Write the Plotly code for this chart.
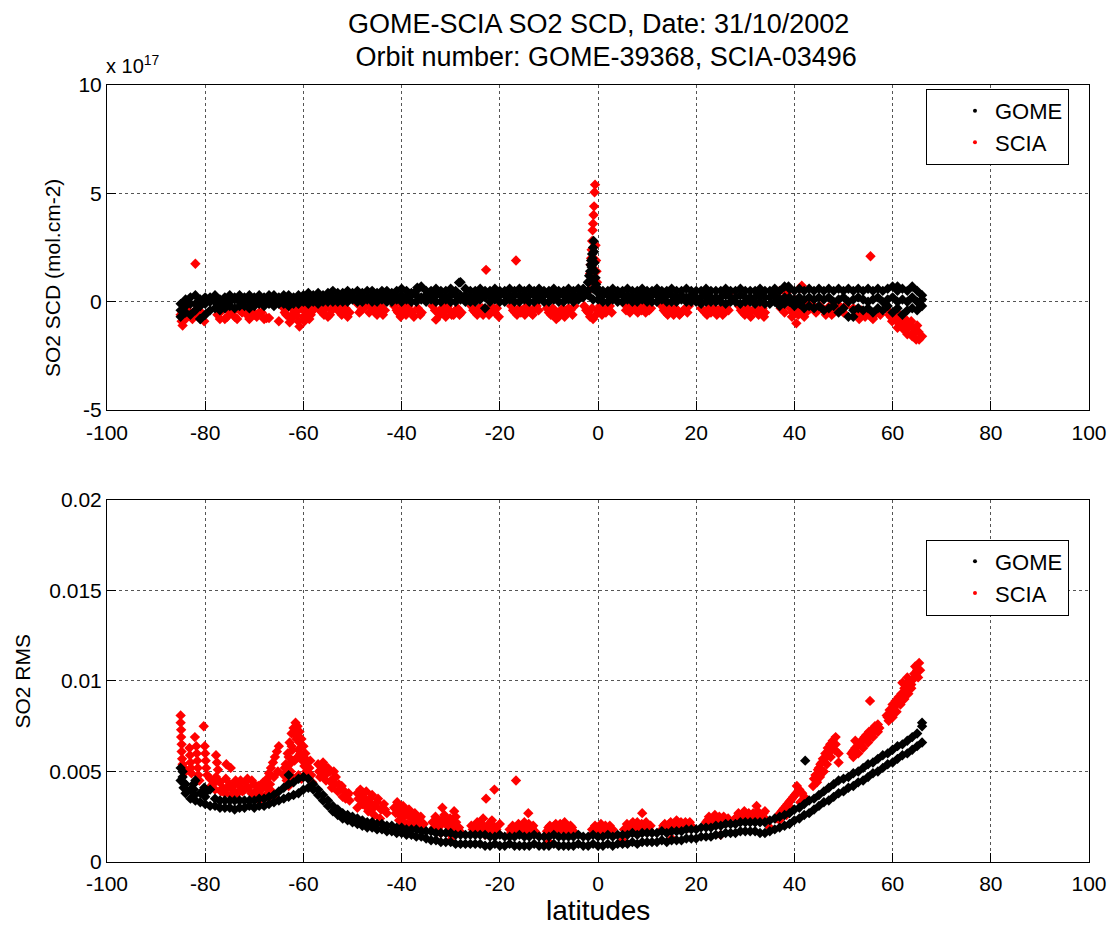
import plotly.graph_objects as go

# GOME: one orbit, sampled on a 1 degree latitude grid (band upper / middle / lower edge)
gome_lat = [-85, -84, -83, -82, -81, -80, -79, -78, -77, -76,
            -75, -74, -73, -72, -71, -70, -69, -68, -67, -66,
            -65, -64, -63, -62, -61, -60, -59, -58, -57, -56,
            -55, -54, -53, -52, -51, -50, -49, -48, -47, -46,
            -45, -44, -43, -42, -41, -40, -39, -38, -37, -36,
            -35, -34, -33, -32, -31, -30, -29, -28, -27, -26,
            -25, -24, -23, -22, -21, -20, -19, -18, -17, -16,
            -15, -14, -13, -12, -11, -10, -9, -8, -7, -6,
            -5, -4, -3, -2, -1, 0, 1, 2, 3, 4,
            5, 6, 7, 8, 9, 10, 11, 12, 13, 14,
            15, 16, 17, 18, 19, 20, 21, 22, 23, 24,
            25, 26, 27, 28, 29, 30, 31, 32, 33, 34,
            35, 36, 37, 38, 39, 40, 41, 42, 43, 44,
            45, 46, 47, 48, 49, 50, 51, 52, 53, 54,
            55, 56, 57, 58, 59, 60, 61, 62, 63, 64,
            65, 66]

# SO2 SCD in units of 1e17 mol.cm-2
gome_scd_hi = [-0.1, 0.1, 0.2, 0.3, 0.1, 0.2, 0.2, 0.3, 0.1, 0.2,
               0.3, 0.2, 0.3, 0.2, 0.3, 0.2, 0.3, 0.2, 0.3, 0.3,
               0.2, 0.3, 0.3, 0.2, 0.3, 0.3, 0.4, 0.3, 0.4, 0.3,
               0.4, 0.5, 0.4, 0.4, 0.5, 0.4, 0.5, 0.4, 0.5, 0.5,
               0.4, 0.5, 0.5, 0.4, 0.5, 0.6, 0.5, 0.4, 0.5, 0.7,
               0.5, 0.5, 0.6, 0.5, 0.5, 0.6, 0.5, 0.9, 0.6, 0.5,
               0.5, 0.6, 0.5, 0.5, 0.6, 0.5, 0.5, 0.6, 0.5, 0.6,
               0.5, 0.6, 0.5, 0.6, 0.5, 0.5, 0.6, 0.5, 0.5, 0.6,
               0.5, 0.6, 0.6, 0.9, 1.0, 0.6, 0.5, 0.5, 0.6, 0.5,
               0.5, 0.6, 0.5, 0.5, 0.6, 0.5, 0.5, 0.6, 0.5, 0.5,
               0.6, 0.5, 0.5, 0.6, 0.5, 0.5, 0.5, 0.6, 0.5, 0.5,
               0.5, 0.6, 0.5, 0.5, 0.6, 0.5, 0.5, 0.5, 0.6, 0.5,
               0.5, 0.6, 0.5, 0.7, 0.6, 0.5, 0.6, 0.5, 0.6, 0.5,
               0.6, 0.5, 0.6, 0.5, 0.6, 0.5, 0.6, 0.5, 0.6, 0.5,
               0.6, 0.5, 0.6, 0.5, 0.6, 0.7, 0.5, 0.6, 0.5, 0.7,
               0.5, 0.3]
gome_scd_mid = [-0.4, -0.2, -0.1, -0.1, -0.2, -0.1, 0.0, 0.0, -0.1, 0.0,
                0.0, 0.1, 0.0, 0.1, 0.0, 0.1, 0.1, 0.0, 0.1, 0.1,
                0.0, 0.1, 0.1, 0.0, 0.1, 0.1, 0.1, 0.2, 0.1, 0.2,
                0.1, 0.2, 0.2, 0.1, 0.2, 0.2, 0.2, 0.2, 0.2, 0.3,
                0.2, 0.2, 0.3, 0.2, 0.2, 0.3, 0.2, 0.3, 0.3, 0.2,
                0.3, 0.2, 0.3, 0.3, 0.2, 0.3, 0.3, 0.3, 0.3, 0.2,
                0.3, 0.3, 0.2, 0.3, 0.3, 0.3, 0.3, 0.3, 0.3, 0.3,
                0.3, 0.3, 0.3, 0.3, 0.3, 0.3, 0.3, 0.3, 0.3, 0.3,
                0.3, 0.3, 0.4, 0.5, 0.6, 0.4, 0.3, 0.3, 0.3, 0.3,
                0.3, 0.3, 0.2, 0.3, 0.3, 0.2, 0.3, 0.3, 0.2, 0.3,
                0.3, 0.2, 0.3, 0.2, 0.3, 0.2, 0.2, 0.3, 0.2, 0.2,
                0.2, 0.3, 0.2, 0.2, 0.3, 0.2, 0.2, 0.2, 0.3, 0.2,
                0.2, 0.3, 0.1, 0.2, 0.2, 0.1, 0.2, 0.1, 0.2, 0.1,
                0.2, 0.1, 0.2, 0.0, 0.1, 0.2, 0.0, 0.1, 0.2, 0.1,
                0.0, 0.1, 0.2, 0.0, 0.1, 0.2, 0.0, 0.1, 0.0, 0.2,
                0.0, 0.1]
gome_scd_lo = [-0.7, -0.5, -0.6, -0.4, -0.8, -0.6, -0.4, -0.3, -0.4, -0.3,
               -0.2, -0.3, -0.2, -0.2, -0.3, -0.2, -0.1, -0.2, -0.1, -0.2,
               -0.1, -0.1, -0.2, -0.1, -0.1, 0.0, -0.1, 0.0, -0.1, 0.0,
               0.0, 0.0, 0.0, 0.0, 0.0, 0.1, 0.0, 0.0, 0.1, 0.0,
               0.0, 0.1, 0.0, 0.0, 0.1, 0.0, 0.1, 0.0, 0.0, 0.1,
               0.0, 0.1, 0.0, 0.0, 0.1, 0.0, 0.0, 0.1, 0.0, 0.0,
               0.0, 0.1, -0.3, 0.0, 0.1, 0.0, 0.0, 0.1, 0.0, 0.0,
               0.1, 0.0, 0.0, 0.1, 0.0, 0.0, 0.1, 0.0, 0.0, 0.1,
               0.0, 0.1, 0.2, 0.3, 0.1, 0.1, 0.0, 0.0, 0.1, 0.0,
               0.0, 0.1, 0.0, 0.0, 0.1, 0.0, 0.0, 0.0, 0.1, 0.0,
               0.0, 0.0, 0.1, 0.0, 0.0, 0.0, -0.1, 0.0, 0.0, 0.0,
               0.0, -0.1, 0.0, 0.0, -0.1, 0.0, 0.0, -0.1, 0.0, -0.1,
               -0.1, 0.0, -0.2, -0.1, 0.0, -0.2, -0.1, -0.3, -0.2, -0.3,
               -0.2, -0.4, -0.3, -0.2, -0.5, -0.3, -0.7, -0.4, -0.3, -0.4,
               -0.3, -0.5, -0.3, -0.4, -0.2, -0.5, -0.3, -0.6, -0.4, -0.3,
               -0.4, -0.2]

# GOME volcanic spike near the equator and scattered outliers
gome_extra_lat = [-2.0, -1.8, -1.6, -1.5, -1.4, -1.3, -1.2, -1.1, -1.0, -0.9,
                  -0.8, -0.7, -0.6, -0.5, -0.4, -28.3, -36.8, 38.8, 61.0, 52.0, -81.0]
gome_extra_scd = [0.9, 1.2, 1.4, 1.7, 1.9, 1.6, 2.2, 2.0, 2.5, 2.8,
                  2.3, 1.8, 1.4, 1.1, 0.8, 0.88, 0.65, 0.7, 0.7, -0.7, -0.8]

# GOME fit RMS, band upper / lower edge on the same grid
gome_rms_hi = [0.0052, 0.0043, 0.0040, 0.0045, 0.0038, 0.0036, 0.0040, 0.0035, 0.0034, 0.0034,
               0.0034, 0.0034, 0.0034, 0.0034, 0.0034, 0.0034, 0.0035, 0.0035, 0.0036, 0.0037,
               0.0039, 0.0041, 0.0043, 0.0044, 0.0046, 0.0047, 0.0046, 0.0043, 0.0040, 0.0037,
               0.0034, 0.0031, 0.0029, 0.0027, 0.0026, 0.0025, 0.0024, 0.0023, 0.0022, 0.0022,
               0.0021, 0.0021, 0.0020, 0.0020, 0.0019, 0.0019, 0.0018, 0.0018, 0.0018, 0.0017,
               0.0017, 0.0017, 0.0016, 0.0016, 0.0016, 0.0016, 0.0015, 0.0015, 0.0015, 0.0015,
               0.0015, 0.0015, 0.0015, 0.0014, 0.0014, 0.0015, 0.0014, 0.0014, 0.0014, 0.0015,
               0.0014, 0.0014, 0.0015, 0.0014, 0.0014, 0.0014, 0.0015, 0.0014, 0.0014, 0.0014,
               0.0014, 0.0015, 0.0014, 0.0014, 0.0015, 0.0014, 0.0014, 0.0015, 0.0014, 0.0015,
               0.0015, 0.0015, 0.0016, 0.0015, 0.0016, 0.0016, 0.0016, 0.0016, 0.0017, 0.0016,
               0.0017, 0.0017, 0.0017, 0.0018, 0.0018, 0.0018, 0.0019, 0.0019, 0.0019, 0.0020,
               0.0020, 0.0021, 0.0021, 0.0021, 0.0022, 0.0022, 0.0022, 0.0022, 0.0022, 0.0022,
               0.0023, 0.0024, 0.0025, 0.0026, 0.0027, 0.0029, 0.0030, 0.0032, 0.0034, 0.0035,
               0.0037, 0.0039, 0.0041, 0.0043, 0.0045, 0.0046, 0.0047, 0.0049, 0.0050, 0.0052,
               0.0054, 0.0055, 0.0057, 0.0059, 0.0060, 0.0062, 0.0064, 0.0065, 0.0067, 0.0069,
               0.0071, 0.0075]
gome_rms_lo = [0.0045, 0.0038, 0.0035, 0.0034, 0.0033, 0.0032, 0.0031, 0.0031, 0.0030, 0.0030,
               0.0030, 0.0029, 0.0030, 0.0030, 0.0031, 0.0030, 0.0031, 0.0031, 0.0032, 0.0033,
               0.0034, 0.0035, 0.0036, 0.0037, 0.0038, 0.0040, 0.0041, 0.0040, 0.0037, 0.0034,
               0.0031, 0.0028, 0.0026, 0.0024, 0.0023, 0.0022, 0.0021, 0.0020, 0.0019, 0.0019,
               0.0018, 0.0018, 0.0017, 0.0017, 0.0016, 0.0016, 0.0015, 0.0015, 0.0014, 0.0014,
               0.0013, 0.0012, 0.0012, 0.0011, 0.0011, 0.0011, 0.0010, 0.0010, 0.0010, 0.0010,
               0.0010, 0.0010, 0.0009, 0.0009, 0.0010, 0.0009, 0.0009, 0.0010, 0.0009, 0.0009,
               0.0009, 0.0009, 0.0010, 0.0009, 0.0009, 0.0009, 0.0010, 0.0009, 0.0009, 0.0009,
               0.0009, 0.0010, 0.0009, 0.0009, 0.0010, 0.0009, 0.0009, 0.0010, 0.0009, 0.0010,
               0.0010, 0.0010, 0.0011, 0.0010, 0.0011, 0.0011, 0.0011, 0.0011, 0.0012, 0.0011,
               0.0012, 0.0012, 0.0012, 0.0013, 0.0013, 0.0013, 0.0014, 0.0014, 0.0014, 0.0015,
               0.0015, 0.0016, 0.0016, 0.0016, 0.0017, 0.0017, 0.0017, 0.0017, 0.0016, 0.0016,
               0.0017, 0.0018, 0.0019, 0.0020, 0.0021, 0.0023, 0.0024, 0.0026, 0.0027, 0.0029,
               0.0031, 0.0033, 0.0034, 0.0036, 0.0038, 0.0039, 0.0041, 0.0042, 0.0044, 0.0045,
               0.0047, 0.0049, 0.0050, 0.0052, 0.0054, 0.0055, 0.0057, 0.0059, 0.0060, 0.0062,
               0.0064, 0.0066]

gome_rms_extra_lat = [-84.6, -84.6, -84.5, -84.4, -82.4, -82.3, -82.2, -80.2, -80.1,
                      42.2, 66.0, -63.0]
gome_rms_extra = [0.0050, 0.0047, 0.0044, 0.0041, 0.0043, 0.0040, 0.0037, 0.0041, 0.0038,
                  0.0056, 0.0077, 0.0048]

# SCIA SO2 SCD (1e17 mol.cm-2), clusters below the GOME band, spike and outliers
scia_scd_lat = [-85.0, -84.8, -84.6, -84.4, -84.2, -84.0,
                -83.8, -83.2, -82.6, -82.0, -81.4, -80.8, -80.2, -82.0,
                -77.5, -76.5, -75.5, -74.5, -73.5, -72.5, -71.5, -70.5, -69.5, -68.5, -67.5, -76.0, -72.0, -70.0,
                -65.0, -67.0,
                -64.0, -63.5, -63.0, -62.5, -62.0, -61.5, -61.0, -60.8, -60.5, -60.0, -59.5, -59.0, -58.5, -58.0, -62.8,
                -57.0, -56.2, -55.4, -54.6, -53.8, -53.0, -52.2, -51.4, -50.6, -55.0,
                -49.0, -48.2, -47.4, -46.6, -45.8, -45.0, -44.2, -43.4, -47.0,
                -41.5, -40.7, -39.9, -39.1, -38.3, -37.5, -36.7, -35.9, -40.0,
                -33.7, -33.0, -32.6, -31.8, -31.0, -30.2, -29.4, -28.6, -27.8, -31.5,
                -25.8, -25.0, -24.2, -23.4, -22.6, -21.8, -21.0, -20.2, -23.6,
                -22.8, -16.7,
                -17.7, -16.9, -16.1, -15.3, -14.5, -13.7, -12.9, -12.1,
                -10.4, -9.6, -8.8, -8.0, -7.2, -6.4, -5.6, -4.8, -8.5,
                -2.0, -1.8, -1.6, -1.5, -1.4, -1.3, -1.2, -1.1, -1.0, -0.9, -0.8, -1.3, -0.7, -0.6,
                -0.5, -0.4, -0.3, -0.2,
                -2.8, -2.0, -1.2, -0.4, 0.4, 1.2, 2.0, 2.8, -1.0,
                5.3, 6.1, 6.9, 7.7, 8.5, 9.3, 10.1, 10.8,
                13.0, 13.8, 14.6, 15.4, 16.2, 17.0, 17.8, 18.5,
                21.0, 21.8, 22.6, 23.4, 24.2, 25.0, 25.8, 26.6,
                28.7, 29.5, 30.3, 31.1, 31.9, 32.7, 33.5, 34.0,
                36.8, 37.6, 38.4, 39.2, 40.0, 40.4, 40.8, 41.5, 41.6, 42.4, 43.2, 38.0, 39.5,
                44.0, 44.8, 45.6, 46.4, 47.2, 48.0, 48.8, 49.6, 50.4,
                52.0, 52.8, 53.6, 54.4, 55.2, 56.0, 56.8, 57.5,
                55.5,
                59.0, 59.6, 60.2, 60.8, 61.4, 62.0, 62.6, 63.2, 63.8, 64.4, 65.0, 65.4, 66.0, 64.8, 61.0,
                -45.0, -6.0, 12.0, 27.0, 41.0, -64.0]
scia_scd = [-0.6, -0.9, -1.1, -0.7, -0.5, -0.8,
            -0.3, -0.5, -0.8, -0.4, -0.7, -0.5, -0.9, 1.75,
            -0.6, -0.4, -0.7, -0.5, -0.8, -0.5, -0.6, -0.4, -0.7, -0.5, -0.75, -0.8, -0.3, -0.6,
            -0.9, -0.75,
            -0.3, -0.6, -0.2, -0.8, -0.4, -0.6, -0.9, -1.15, -0.3, -0.7, -0.5, -0.2, -0.6, -0.4, -0.95,
            -0.2, -0.5, -0.3, -0.6, -0.2, -0.4, -0.6, -0.3, -0.5, -0.7,
            -0.1, -0.4, -0.2, -0.5, -0.3, -0.6, -0.2, -0.4, 0.1,
            -0.2, -0.5, -0.3, -0.6, -0.4, -0.7, -0.3, -0.5, -0.1,
            -0.2, -0.83, -0.5, -0.3, -0.7, -0.4, -0.6, -0.3, -0.5, -0.1,
            -0.2, -0.5, -0.3, -0.6, -0.4, -0.2, -0.5, -0.7, -0.3,
            1.47, 1.9,
            -0.2, -0.5, -0.3, -0.4, -0.2, -0.5, -0.3, -0.4,
            -0.3, -0.6, -0.4, -0.7, -0.3, -0.5, -0.4, -0.2, -0.8,
            0.5, 0.9, 1.3, 1.7, 2.0, 2.4, 2.8, 3.3, 3.6, 4.0, 4.4, 1.1, 5.05, 5.4,
            2.6, 1.9, 1.4, 0.9,
            -0.2, -0.5, -0.3, -0.6, -0.2, -0.4, -0.3, -0.5, -0.8,
            -0.1, -0.3, -0.2, -0.4, -0.2, -0.3, -0.1, -0.3,
            -0.2, -0.5, -0.3, -0.6, -0.4, -0.5, -0.3, -0.2,
            -0.3, -0.5, -0.3, -0.4, -0.6, -0.3, -0.5, -0.4,
            -0.2, -0.5, -0.3, -0.7, -0.4, -0.6, -0.3, -0.5,
            0.2, -0.1, 0.4, -0.3, 0.1, -1.0, -0.6, 0.74, -0.2, -0.5, -0.3, -0.5, -0.7,
            -0.2, -0.4, -0.3, -0.6, -0.2, -0.5, -0.3, -0.4, -0.2,
            -0.3, -0.6, -0.4, -0.7, -0.5, -0.8, -0.4, -0.6,
            2.1,
            -0.4, -0.7, -0.5, -0.9, -0.6, -1.0, -0.8, -1.2, -0.9, -1.4, -1.1, -1.75, -1.6, -1.75, -1.2,
            0.3, 0.4, 0.4, 0.45, 0.6, 0.2]

# second pass of SCIA pixels inside the same clusters
scia_scd_lat_b = [-84.6, -83.6, -82.3, -81.0, -80.5,
                  -77.0, -75.0, -74.0, -73.0, -71.0, -69.0, -68.0,
                  -63.8, -62.2, -61.2, -59.8, -58.8,
                  -56.6, -55.8, -54.2, -52.6, -51.8, -51.0,
                  -48.6, -47.8, -46.2, -45.4, -44.6, -43.8,
                  -41.0, -40.2, -39.4, -38.6, -37.8, -36.2,
                  -33.2, -32.2, -31.4, -30.6, -29.8, -29.0, -28.2,
                  -25.4, -24.6, -23.8, -22.2, -21.4, -20.6,
                  -17.3, -16.5, -15.7, -14.9, -14.1, -13.3, -12.5,
                  -10.0, -9.2, -8.4, -7.6, -6.8, -6.0, -5.2,
                  -2.4, -1.6, 0.0, 0.8, 1.6, 2.4,
                  5.7, 6.5, 7.3, 8.1, 8.9, 9.7, 10.4,
                  13.4, 14.2, 15.0, 15.8, 16.6, 17.4, 18.2,
                  21.4, 22.2, 23.0, 23.8, 24.6, 25.4, 26.2,
                  29.1, 29.9, 30.7, 31.5, 32.3, 33.1, 33.8,
                  37.2, 38.8, 39.6, 40.2, 41.2, 42.0, 42.8, 37.0,
                  44.4, 45.2, 46.0, 46.8, 47.6, 48.4, 49.2, 50.0,
                  52.4, 53.2, 54.0, 54.8, 55.6, 56.4, 57.2,
                  59.3, 59.9, 60.5, 61.7, 62.3, 62.9, 63.5, 64.1, 64.7, 65.3, 63.0, 64.0]
scia_scd_b = [-0.5, -0.6, -0.6, -0.7, -0.6,
              -0.8, -0.5, -0.7, -0.4, -0.8, -0.5, -0.8,
              -0.5, -0.6, -0.4, -0.9, -0.8,
              -0.4, -0.6, -0.4, -0.3, -0.5, -0.7,
              -0.5, -0.3, -0.2, -0.5, -0.4, -0.6,
              -0.4, -0.7, -0.5, -0.2, -0.5, -0.6,
              -0.4, -0.6, -0.5, -0.2, -0.6, -0.4, -0.6,
              -0.4, -0.6, -0.5, -0.6, -0.4, -0.3,
              -0.4, -0.6, -0.5, -0.6, -0.4, -0.6, -0.2,
              -0.5, -0.3, -0.5, -0.5, -0.7, -0.3, -0.6,
              -0.4, -0.7, -0.4, -0.6, -0.5, -0.2,
              -0.4, -0.5, -0.3, -0.5, -0.4, -0.5, -0.4,
              -0.4, -0.6, -0.4, -0.3, -0.6, -0.4, -0.5,
              -0.4, -0.6, -0.5, -0.3, -0.5, -0.6, -0.3,
              -0.4, -0.6, -0.5, -0.4, -0.3, -0.5, -0.7,
              -0.3, 0.0, -0.5, -0.3, -0.4, -0.7, -0.1, 0.5,
              -0.5, -0.2, -0.4, -0.3, -0.6, -0.4, -0.2, -0.5,
              -0.4, -0.8, -0.5, -0.4, -0.7, -0.6, -0.5,
              -0.6, -0.9, -0.7, -0.8, -1.3, -1.0, -1.1, -1.2, -1.3, -1.4, -1.5, -1.6]

# SCIA fit RMS
scia_rms_lat = [-85.0, -85.0, -84.9, -84.9, -84.8, -84.8, -84.7, -84.6, -84.3, -84.0,
                -83.2, -83.1, -83.0, -82.9, -82.8,
                -82.1, -81.8, -81.7, -81.6, -81.5, -81.4, -81.2,
                -80.3, -80.1, -80.0, -79.9, -79.8, -79.6,
                -77.8, -77.6, -77.4, -75.7, -74.8,
                -79.0, -78.4, -77.8, -77.0, -76.4, -75.8, -75.0, -74.4, -73.8, -73.0, -72.4, -71.8, -71.2, -70.6, -76.0, -78.0,
                -70.0, -69.4, -68.8, -68.2, -67.6, -67.0, -66.4, -69.0, -66.0, -70.5,
                -67.4, -67.0, -66.6, -66.2, -65.8, -65.4, -65.0, -66.0, -65.2,
                -64.0, -63.6, -63.2, -62.8, -62.4, -62.0, -61.6, -61.2, -60.8, -60.4, -60.0, -59.6, -59.2, -58.8,
                -58.4, -63.4, -62.6, -61.8, -61.0, -60.2, -59.4, -62.2, -61.4, -60.6, -63.0, -58.2, -61.0, -62.0,
                -57.0, -56.4, -55.8, -55.2, -54.6, -54.0, -53.4, -52.8, -52.2, -51.6, -51.0, -56.6, -55.4, -54.2,
                -53.0, -52.0, -50.6, -56.0,
                -49.0, -48.4, -47.8, -47.2, -46.6, -46.0, -45.4, -44.8, -44.2, -43.6, -43.0, -48.0, -46.8, -45.6,
                -44.4, -49.0,
                -41.5, -40.9, -40.3, -39.7, -39.1, -38.5, -37.9, -37.3, -36.7, -36.1, -35.5, -40.5, -38.8, -37.0,
                -33.7, -33.1, -32.5, -31.9, -31.3, -30.7, -30.1, -29.5, -28.9, -28.3, -27.8, -32.0, -30.0, -31.7,
                -29.3,
                -25.8, -25.2, -24.6, -24.0, -23.4, -22.8, -22.2, -21.6, -21.0, -20.4, -20.0, -23.0, -22.8, -21.1,
                -16.7, -14.2,
                -18.0, -17.4, -16.8, -16.2, -15.6, -15.0, -14.4, -13.8, -13.2, -12.6,
                -10.4, -9.8, -9.2, -8.6, -8.0, -7.4, -6.8, -6.2, -5.6, -5.0,
                -1.2, -0.6, 0.0, 0.6, 1.2, 1.8, 2.4, 3.0,
                5.3, 5.9, 6.5, 7.1, 7.7, 8.3, 8.9, 9.5, 10.1, 10.7, 9.0,
                13.0, 13.6, 14.2, 14.8, 15.4, 16.0, 16.6, 17.2, 17.8, 18.4, 19.0,
                22.0, 22.6, 23.2, 23.8, 24.4, 25.0, 25.6, 26.2,
                28.0, 28.6, 29.2, 29.8, 30.4, 31.0, 31.6, 32.2, 32.8, 33.4, 34.0, 32.3, 34.0,
                36.2, 36.8, 37.4, 38.0, 38.6, 39.2, 39.8, 40.4, 41.0, 40.5, 37.0, 38.4, 39.6, 41.2, 42.0,
                44.3, 44.8, 45.3, 45.8, 46.3, 46.8, 47.3, 47.8, 48.4, 44.6, 45.2, 46.0, 46.6, 47.4, 48.2, 49.0,
                43.8, 49.0, 52.4, 52.4,
                51.6, 52.2, 52.8, 53.4, 54.0, 54.6, 55.2, 55.8, 56.4, 57.0, 52.0, 53.0, 54.0, 55.0, 56.0, 57.0,
                55.4,
                58.8, 59.4, 60.0, 60.6, 61.2, 61.8, 62.4, 63.0, 63.6, 64.2, 64.8, 65.6, 59.2, 60.0, 60.8, 61.6,
                62.4, 63.2, 63.8, 62.0, 63.0, 64.6, 65.4,
                -30.0, -10.0, 5.0, 15.0, 25.0, 35.0]
scia_rms = [0.0081, 0.0077, 0.0073, 0.0069, 0.0065, 0.0061, 0.0057, 0.0054, 0.0052, 0.0050,
            0.0063, 0.0059, 0.0055, 0.0052, 0.0049,
            0.0069, 0.0064, 0.0060, 0.0056, 0.0052, 0.0048, 0.0045,
            0.0075, 0.0064, 0.0060, 0.0056, 0.0052, 0.0048,
            0.0059, 0.0055, 0.0051, 0.0054, 0.0052,
            0.0046, 0.0043, 0.0047, 0.0044, 0.0041, 0.0046, 0.0043, 0.0040, 0.0045, 0.0042, 0.0039, 0.0044, 0.0041, 0.0038, 0.0038, 0.0040,
            0.0043, 0.0040, 0.0037, 0.0044, 0.0041, 0.0035, 0.0039, 0.0034, 0.0036, 0.0045,
            0.0046, 0.0049, 0.0052, 0.0055, 0.0058, 0.0061, 0.0064, 0.0047, 0.0050,
            0.0048, 0.0054, 0.0060, 0.0066, 0.0071, 0.0074, 0.0077, 0.0075, 0.0072, 0.0068, 0.0064, 0.0060, 0.0056, 0.0052,
            0.0048, 0.0045, 0.0050, 0.0056, 0.0062, 0.0056, 0.0050, 0.0062, 0.0068, 0.0060, 0.0042, 0.0044, 0.0048, 0.0046,
            0.0054, 0.0051, 0.0053, 0.0049, 0.0050, 0.0046, 0.0047, 0.0043, 0.0042, 0.0039, 0.0037, 0.0047, 0.0045, 0.0041,
            0.0039, 0.0036, 0.0034, 0.0055,
            0.0038, 0.0040, 0.0036, 0.0039, 0.0033, 0.0037, 0.0031, 0.0035, 0.0029, 0.0032, 0.0027, 0.0032, 0.0028, 0.0026,
            0.0024, 0.0030,
            0.0030, 0.0033, 0.0028, 0.0031, 0.0026, 0.0029, 0.0024, 0.0027, 0.0022, 0.0025, 0.0021, 0.0023, 0.0021, 0.0019,
            0.0022, 0.0025, 0.0019, 0.0023, 0.0026, 0.0020, 0.0024, 0.0018, 0.0022, 0.0019, 0.0016, 0.0016, 0.0015, 0.0030,
            0.0028,
            0.0020, 0.0017, 0.0022, 0.0019, 0.0024, 0.0018, 0.0021, 0.0023, 0.0019, 0.0016, 0.0021, 0.0015, 0.0035, 0.0040,
            0.0045, 0.0027,
            0.0018, 0.0020, 0.0016, 0.0021, 0.0018, 0.0022, 0.0019, 0.0017, 0.0020, 0.0016,
            0.0017, 0.0020, 0.0018, 0.0021, 0.0017, 0.0020, 0.0022, 0.0018, 0.0020, 0.0017,
            0.0018, 0.0020, 0.0017, 0.0021, 0.0019, 0.0017, 0.0020, 0.0018,
            0.0018, 0.0021, 0.0019, 0.0022, 0.0020, 0.0018, 0.0021, 0.0019, 0.0017, 0.0020, 0.0027,
            0.0018, 0.0021, 0.0019, 0.0022, 0.0020, 0.0023, 0.0019, 0.0021, 0.0022, 0.0019, 0.0020,
            0.0022, 0.0025, 0.0023, 0.0026, 0.0024, 0.0022, 0.0025, 0.0023,
            0.0024, 0.0027, 0.0025, 0.0028, 0.0026, 0.0024, 0.0027, 0.0025, 0.0023, 0.0026, 0.0024, 0.0031, 0.0028,
            0.0024, 0.0026, 0.0028, 0.0030, 0.0032, 0.0034, 0.0036, 0.0038, 0.0040, 0.0042, 0.0023, 0.0026, 0.0029, 0.0033, 0.0036,
            0.0048, 0.0051, 0.0054, 0.0057, 0.0060, 0.0063, 0.0065, 0.0067, 0.0069, 0.0044, 0.0047, 0.0050, 0.0054, 0.0058, 0.0062, 0.0060,
            0.0042, 0.0055, 0.0067, 0.0063,
            0.0060, 0.0062, 0.0064, 0.0066, 0.0068, 0.0070, 0.0072, 0.0073, 0.0075, 0.0076, 0.0058, 0.0060, 0.0063, 0.0066, 0.0069, 0.0072,
            0.0089,
            0.0081, 0.0084, 0.0087, 0.0089, 0.0091, 0.0093, 0.0096, 0.0098, 0.0100, 0.0101, 0.0103, 0.0106, 0.0078, 0.0080, 0.0083, 0.0087,
            0.0090, 0.0093, 0.0096, 0.0099, 0.0102, 0.0108, 0.0110,
            0.0012, 0.0011, 0.0012, 0.0013, 0.0015, 0.0019]

# second pass of SCIA RMS pixels inside the same clusters
scia_rms_lat_b = [-78.8, -77.4, -76.8, -75.4, -74.0, -73.4, -72.8, -72.0, -71.4, -74.8,
                  -69.8, -69.2, -68.6, -68.0, -67.2, -66.8,
                  -63.8, -63.0, -62.4, -61.6, -60.8, -60.0, -59.2, -58.6, -62.8, -61.2, -59.8, -60.4,
                  -56.8, -56.0, -55.0, -54.4, -53.6, -52.6, -51.4, -50.8, -53.8,
                  -48.8, -48.2, -47.4, -46.4, -45.8, -45.0, -44.0, -43.4, -47.0,
                  -41.2, -40.6, -40.0, -39.4, -38.2, -37.6, -36.4, -35.8, -39.6,
                  -33.4, -32.8, -32.2, -31.0, -30.4, -29.8, -28.6, -29.0,
                  -25.5, -24.9, -24.3, -23.7, -22.5, -21.9, -21.3, -20.7,
                  -17.7, -17.1, -16.5, -15.9, -15.3, -14.7, -14.1, -13.5, -12.9,
                  -10.1, -9.5, -8.9, -8.3, -7.7, -7.1, -6.5, -5.9, -5.3,
                  -0.9, -0.3, 0.3, 0.9, 1.5, 2.1, 2.7,
                  5.6, 6.2, 6.8, 7.4, 8.0, 8.6, 9.2, 9.8, 10.4,
                  13.3, 13.9, 14.5, 15.1, 15.7, 16.3, 16.9, 17.5, 18.1, 18.7,
                  22.3, 22.9, 23.5, 24.1, 24.7, 25.3, 25.9, 26.5,
                  28.3, 28.9, 29.5, 30.1, 30.7, 31.3, 31.9, 32.5, 33.1, 33.7,
                  36.5, 37.1, 37.7, 38.3, 38.9, 39.5, 40.1, 40.7, 41.6,
                  45.0, 45.6, 46.2, 46.8, 47.6, 48.4, 44.0,
                  51.9, 52.5, 53.1, 53.7, 54.3, 54.9, 55.5, 56.1, 56.7, 57.3,
                  59.0, 59.6, 60.2, 60.8, 61.4, 62.0, 62.6, 63.2, 63.8, 64.4, 65.0, 65.2]
scia_rms_b = [0.0042, 0.0045, 0.0039, 0.0041, 0.0043, 0.0038, 0.0045, 0.0040, 0.0046, 0.0037,
              0.0038, 0.0042, 0.0040, 0.0036, 0.0038, 0.0043,
              0.0052, 0.0058, 0.0064, 0.0070, 0.0066, 0.0058, 0.0048, 0.0056, 0.0054, 0.0058, 0.0053, 0.0046,
              0.0050, 0.0048, 0.0052, 0.0044, 0.0043, 0.0040, 0.0035, 0.0038, 0.0050,
              0.0035, 0.0037, 0.0033, 0.0035, 0.0030, 0.0033, 0.0030, 0.0029, 0.0030,
              0.0027, 0.0030, 0.0025, 0.0028, 0.0026, 0.0022, 0.0024, 0.0019, 0.0022,
              0.0019, 0.0022, 0.0020, 0.0022, 0.0017, 0.0021, 0.0017, 0.0025,
              0.0018, 0.0020, 0.0017, 0.0021, 0.0020, 0.0017, 0.0020, 0.0018,
              0.0016, 0.0019, 0.0018, 0.0016, 0.0020, 0.0017, 0.0021, 0.0019, 0.0017,
              0.0019, 0.0016, 0.0020, 0.0018, 0.0021, 0.0018, 0.0020, 0.0016, 0.0019,
              0.0016, 0.0019, 0.0018, 0.0016, 0.0020, 0.0018, 0.0016,
              0.0016, 0.0019, 0.0021, 0.0018, 0.0022, 0.0019, 0.0020, 0.0022, 0.0018,
              0.0020, 0.0019, 0.0021, 0.0019, 0.0021, 0.0020, 0.0022, 0.0019, 0.0021, 0.0022,
              0.0023, 0.0021, 0.0024, 0.0022, 0.0025, 0.0024, 0.0022, 0.0024,
              0.0025, 0.0023, 0.0026, 0.0025, 0.0027, 0.0025, 0.0026, 0.0028, 0.0025, 0.0027,
              0.0025, 0.0027, 0.0029, 0.0031, 0.0033, 0.0035, 0.0037, 0.0039, 0.0038,
              0.0052, 0.0055, 0.0057, 0.0059, 0.0062, 0.0065, 0.0046,
              0.0061, 0.0061, 0.0065, 0.0064, 0.0069, 0.0068, 0.0071, 0.0072, 0.0073, 0.0074,
              0.0080, 0.0082, 0.0085, 0.0087, 0.0089, 0.0091, 0.0093, 0.0096, 0.0098, 0.0104, 0.0106, 0.0102]

x_ticks = [-100, -80, -60, -40, -20, 0, 20, 40, 60, 80, 100]
x_ticktext = ["-100", "-80", "-60", "-40", "-20", "0", "20", "40", "60", "80", "100"]
scd_ticks = [-5, 0, 5, 10]
scd_ticktext = ["-5", "0", "5", "10"]
rms_ticks = [0, 0.005, 0.01, 0.015, 0.02]
rms_ticktext = ["0", "0.005", "0.01", "0.015", "0.02"]

FONT = "Liberation Sans, Arial, sans-serif"
mk = dict(symbol="diamond", size=8, line=dict(width=0))

fig = go.Figure()

# SCIA first so GOME sits on top, like the original
fig.add_trace(go.Scatter(x=scia_scd_lat + scia_scd_lat_b, y=scia_scd + scia_scd_b, mode="markers",
                         marker=dict(color="red", **mk), showlegend=False, xaxis="x", yaxis="y"))
fig.add_trace(go.Scatter(x=gome_lat + gome_lat + gome_lat + gome_extra_lat,
                         y=gome_scd_hi + gome_scd_mid + gome_scd_lo + gome_extra_scd,
                         mode="markers", marker=dict(color="black", **mk), showlegend=False,
                         xaxis="x", yaxis="y"))
fig.add_trace(go.Scatter(x=scia_rms_lat + scia_rms_lat_b, y=scia_rms + scia_rms_b, mode="markers",
                         marker=dict(color="red", **mk), showlegend=False, xaxis="x2", yaxis="y2"))
fig.add_trace(go.Scatter(x=gome_lat + gome_lat + gome_rms_extra_lat,
                         y=gome_rms_hi + gome_rms_lo + gome_rms_extra,
                         mode="markers", marker=dict(color="black", **mk), showlegend=False,
                         xaxis="x2", yaxis="y2"))

# legend entries: small dots as in the MATLAB legend
for lg, xa, ya in [("legend", "x", "y"), ("legend2", "x2", "y2")]:
    for name, col, rank in [("GOME", "black", 1), ("SCIA", "red", 2)]:
        fig.add_trace(go.Scatter(x=[None], y=[None], mode="markers", name=name,
                                 marker=dict(color=col, size=4, symbol="circle"),
                                 legend=lg, legendrank=rank, xaxis=xa, yaxis=ya))

ax_common = dict(showline=True, linecolor="black", linewidth=1, mirror=True,
                 ticks="inside", ticklen=9, tickcolor="black",
                 showgrid=True, gridcolor="#555555", griddash="dot", gridwidth=1,
                 zeroline=False, tickfont=dict(family=FONT, size=21, color="black"))

leg_common = dict(xanchor="left", yanchor="top", bgcolor="white", bordercolor="black",
                  borderwidth=1, itemsizing="trace", indentation=28,
                  font=dict(family=FONT, size=22), tracegroupgap=0)

fig.update_layout(
    width=1111, height=918,
    paper_bgcolor="white", plot_bgcolor="white",
    margin=dict(l=99, r=28, t=77, b=64),
    font=dict(family=FONT, color="black"),
    xaxis=dict(domain=[0, 1], range=[-100, 100], tickvals=x_ticks, ticktext=x_ticktext,
               anchor="y", ticklabelstandoff=4, **ax_common),
    yaxis=dict(domain=[0.5817, 1], range=[-5, 10], tickvals=scd_ticks, ticktext=scd_ticktext,
               anchor="x", **ax_common),
    xaxis2=dict(domain=[0, 1], range=[-100, 100], tickvals=x_ticks, ticktext=x_ticktext,
                anchor="y2", ticklabelstandoff=3, **ax_common),
    yaxis2=dict(domain=[0, 0.4659], range=[0, 0.02], tickvals=rms_ticks, ticktext=rms_ticktext,
                anchor="x2", **ax_common),
    legend=dict(x=0.834, y=0.995, **leg_common),
    legend2=dict(x=0.834, y=0.415, **leg_common),
    showlegend=True,
)

for text, x, y in [("GOME-SCIA SO2 SCD, Date: 31/10/2002", 0.5, 1.0785),
                   (" Orbit number: GOME-39368, SCIA-03496", 0.505, 1.036)]:
    fig.add_annotation(text=text, x=x, y=y, xref="paper", yref="paper", showarrow=False,
                       xanchor="center", yanchor="middle", borderpad=0,
                       font=dict(family=FONT, size=27))

fig.add_annotation(text="x 10<sup>17</sup>", xref="paper", yref="paper", x=-0.003, y=1.026,
                   xanchor="left", yanchor="middle", showarrow=False,
                   font=dict(family=FONT, size=20))
fig.add_annotation(text="SO2 SCD (mol.cm-2)", xref="paper", yref="paper", x=-0.056, y=0.7516,
                   textangle=-90, xanchor="center", yanchor="middle", showarrow=False,
                   font=dict(family=FONT, size=21))
fig.add_annotation(text="SO2 RMS", xref="paper", yref="paper", x=-0.086, y=0.233,
                   textangle=-90, xanchor="center", yanchor="middle", showarrow=False,
                   font=dict(family=FONT, size=21))
fig.add_annotation(text="latitudes", xref="paper", yref="paper", x=0.5, y=-0.062,
                   xanchor="center", yanchor="middle", showarrow=False, borderpad=0,
                   font=dict(family=FONT, size=28))

fig.write_html("out.html")
